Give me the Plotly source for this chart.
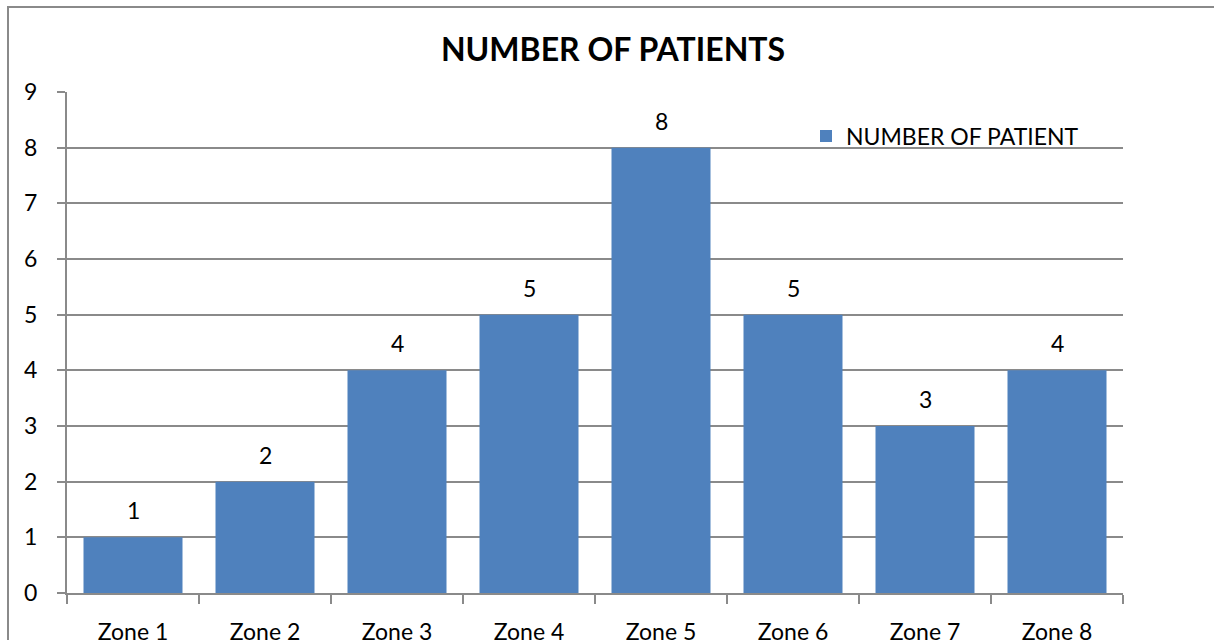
import plotly.graph_objects as go

zones = ["Zone 1", "Zone 2", "Zone 3", "Zone 4", "Zone 5", "Zone 6", "Zone 7", "Zone 8"]
patients = [1, 2, 4, 5, 8, 5, 3, 4]
y_ticks = list(range(0, 10))

W, H = 1214, 640
L, R, T, B = 67, 91, 92, 47
pw, ph = W - L - R, H - T - B

font_family = "Lato, Open Sans, sans-serif"
grid_col = "#8a8a8a"
bar_col = "#4F81BD"

fig = go.Figure(
    go.Bar(
        x=zones,
        y=patients,
        name="NUMBER OF PATIENT",
        marker=dict(color=bar_col, line=dict(width=0)),
        cliponaxis=False,
    )
)

# value labels sitting above each bar
for z, v in zip(zones, patients):
    fig.add_annotation(
        x=z, y=v, xref="x", yref="y",
        text=str(v), showarrow=False,
        yanchor="middle", yshift=27,
        font=dict(size=23, color="#000000", family=font_family),
    )

# outer chart frame
fig.add_shape(
    type="rect", xref="paper", yref="paper",
    x0=(8 - L) / pw, x1=(W + 20 - L) / pw,
    y0=-(B + 20) / ph, y1=(H - 7 - B) / ph,
    line=dict(color=grid_col, width=2), fillcolor="rgba(0,0,0,0)", layer="below",
)

fig.update_layout(
    width=W, height=H,
    margin=dict(l=L, r=R, t=T, b=B, pad=0, autoexpand=False),
    paper_bgcolor="white", plot_bgcolor="white",
    bargap=0.25,
    font=dict(family=font_family, size=23, color="#000000"),
    title=dict(
        text="<b>NUMBER OF PATIENTS</b>",
        x=613 / W, xanchor="center",
        y=1 - 50 / H, yanchor="middle",
        font=dict(size=32, family=font_family, color="#000000"),
        automargin=False,
    ),
    showlegend=True,
    legend=dict(
        x=(806 - L) / pw, xanchor="left",
        y=(H - B - 136) / ph, yanchor="middle",
        bgcolor="rgba(0,0,0,0)",
        font=dict(size=23, family=font_family),
        itemwidth=30,
    ),
    xaxis=dict(
        type="category",
        automargin=False,
        tickson="boundaries",
        ticks="outside", ticklen=9, tickcolor=grid_col, tickwidth=2,
        showline=True, linecolor=grid_col, linewidth=2,
        showgrid=False,
        tickfont=dict(size=23),
        ticklabelstandoff=17,
    ),
    yaxis=dict(
        range=[0, 9],
        automargin=False,
        tickvals=y_ticks,
        ticks="outside", ticklen=8, tickcolor=grid_col, tickwidth=2,
        showline=True, linecolor=grid_col, linewidth=2,
        showgrid=True, gridcolor=grid_col, gridwidth=2,
        zeroline=False,
        tickfont=dict(size=23),
        ticklabelstandoff=15,
    ),
)

fig.write_html("out.html")
